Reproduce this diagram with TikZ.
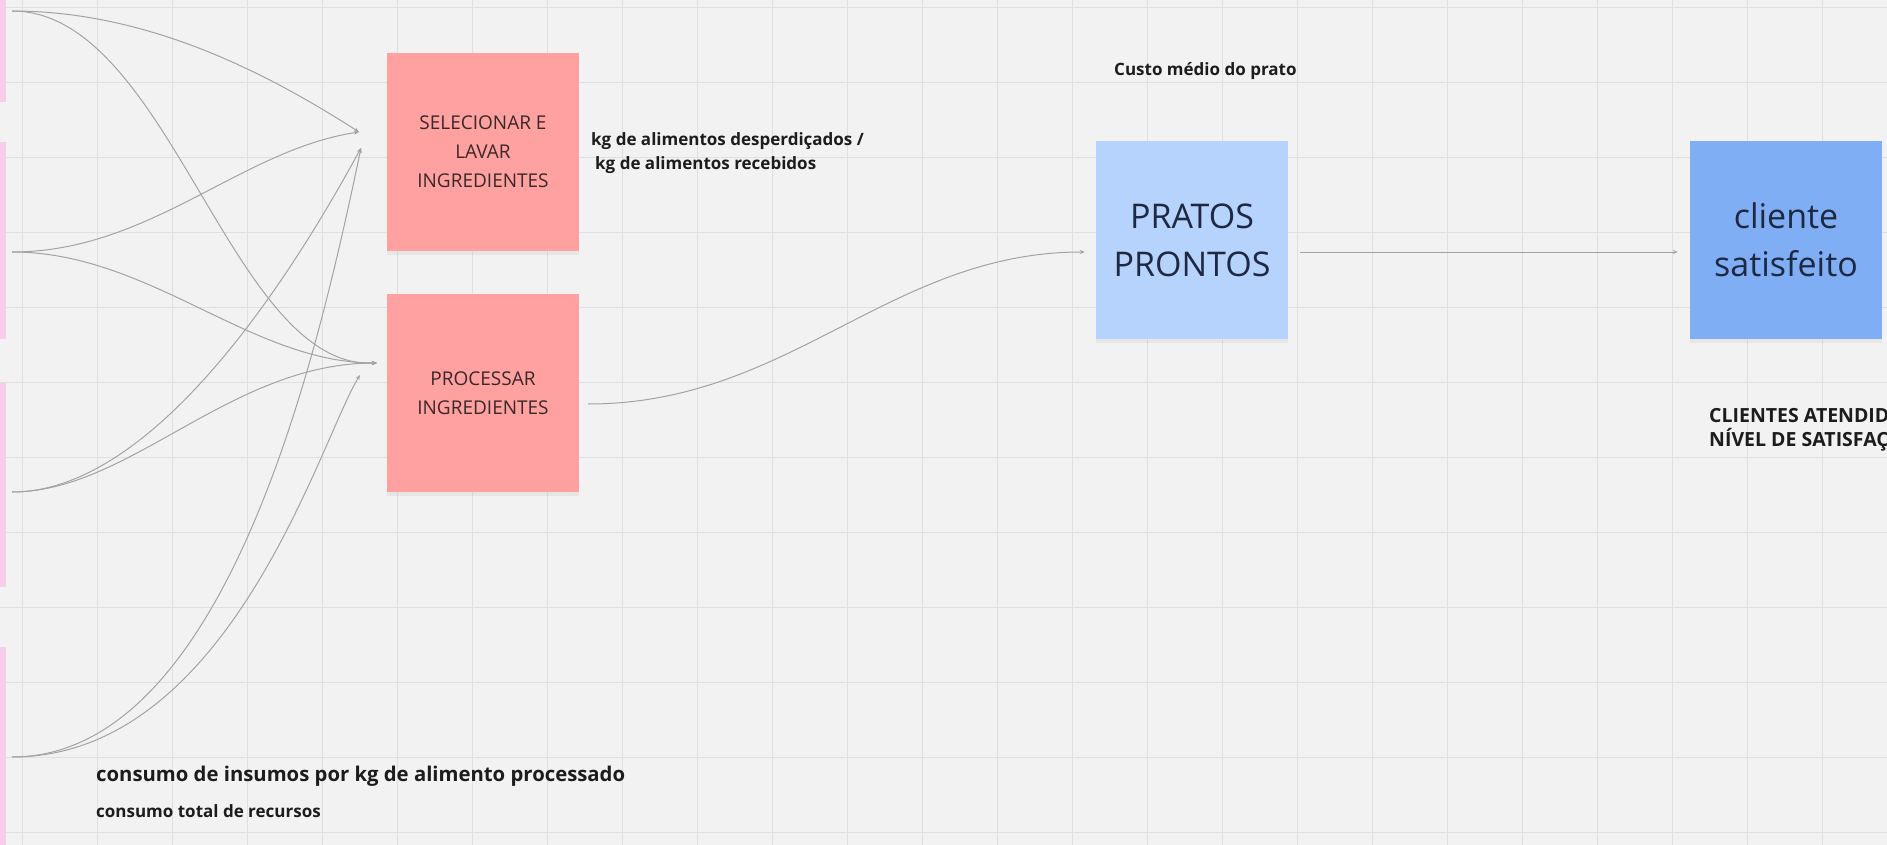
\documentclass[tikz,border=0pt]{standalone}
\usepackage{fontspec}
\setmainfont{Open Sans}
\usetikzlibrary{arrows.meta,shadows}
\definecolor{board}{HTML}{F2F2F2}
\definecolor{gridline}{HTML}{E0E0E0}
\definecolor{stickred}{HTML}{FFA1A1}
\definecolor{stickblue}{HTML}{B6D3FD}
\definecolor{stickdeep}{HTML}{80AEF4}
\definecolor{stickpink}{HTML}{F8CDEB}
\definecolor{linegrey}{HTML}{A3A3A3}
\tikzset{
  sticky/.style={minimum width=192pt,minimum height=198pt,inner sep=0pt,align=center,
    drop shadow={shadow xshift=0pt,shadow yshift=-4pt,opacity=0.10}},
  redtext/.style={font=\fontsize{19}{29}\selectfont,text={rgb,255:red,58;green,40;blue,40}},
  bluetext/.style={font=\fontsize{34}{48}\selectfont,text={rgb,255:red,30;green,40;blue,66}},
  wire/.style={draw=linegrey,line width=1pt,-{Stealth[length=5pt,width=4pt]}},
  note/.style={font=\bfseries\fontsize{17}{24}\selectfont,text={rgb,255:red,28;green,28;blue,28},inner sep=0pt,align=left},
}
\begin{document}
\begin{tikzpicture}[x=1pt,y=-1pt]
\useasboundingbox (0,0) rectangle (1887,845);
\clip (0,0) rectangle (1887,845);
\fill[board] (0,0) rectangle (1887,845);
% board grid
\foreach \gx in {22,97,...,1897} \draw[gridline] (\gx,0) -- (\gx,845);
\foreach \gy in {7,82,...,832} \draw[gridline] (0,\gy) -- (1887,\gy);
% stickies cut off at the left edge
\fill[stickpink] (0,0) rectangle (6,102);
\fill[stickpink] (0,142) rectangle (6,339);
\fill[stickpink] (0,383) rectangle (6,587);
\fill[stickpink] (0,647) rectangle (6,845);

\node[sticky,fill=stickred,redtext] (sel) at (483,152) {SELECIONAR E\\LAVAR\\INGREDIENTES};
\node[sticky,fill=stickred,redtext] (proc) at (483,393) {PROCESSAR\\INGREDIENTES};
\node[sticky,fill=stickblue,bluetext] (pratos) at (1192,240) {PRATOS\\PRONTOS};
\node[sticky,fill=stickdeep,bluetext] (cliente) at (1786,240) {cliente\\satisfeito};

\coordinate (in1) at (12,11);
\coordinate (in2) at (12,252);
\coordinate (in3) at (12,492);
\coordinate (in4) at (12,757);
\coordinate (selA) at (359,132);
\coordinate (selB) at (361,148);
\coordinate (procA) at (377,363);
\coordinate (procB) at (360,375);

\draw[wire] (in1) .. controls (150,11) and (270,75) .. (selA);
\draw[wire] (in1) .. controls (170,11) and (230,370) .. (procA);
\draw[wire] (in2) .. controls (150,252) and (240,150) .. (selA);
\draw[wire] (in2) .. controls (150,252) and (250,363) .. (procA);
\draw[wire] (in3) .. controls (130,492) and (230,363) .. (procA);
\draw[wire] (in3) .. controls (160,492) and (300,260) .. (selB);
\draw[wire] (in4) .. controls (230,757) and (321,338) .. (selB);
\draw[wire] (in4) .. controls (230,757) and (320,440) .. (procB);
\draw[wire] ([xshift=9pt,yshift=-11pt]proc.east) .. controls (790,404) and (890,252) .. ([xshift=-11pt,yshift=-12pt]pratos.west);
\draw[wire] ([xshift=12pt,yshift=-12pt]pratos.east) -- ([xshift=-12pt,yshift=-12pt]cliente.west);

\node[note,anchor=west] (perda) at (591,153) {kg de alimentos desperdiçados /\\\hspace{4pt}kg de alimentos recebidos};
\node[note,anchor=west] (custo) at (1114,71) {Custo médio do prato};
\node[note,anchor=west,font=\bfseries\fontsize{19.5}{24}\selectfont] (atend) at (1709,430) {CLIENTES ATENDIDOS\\NÍVEL DE SATISFAÇÃO};
\node[note,anchor=west,font=\bfseries\fontsize{20.3}{24}\selectfont] (insumo) at (96,776) {consumo de insumos por kg de alimento processado};
\node[note,anchor=west] (recurso) at (96,811) {consumo total de recursos};
\end{tikzpicture}
\end{document}
